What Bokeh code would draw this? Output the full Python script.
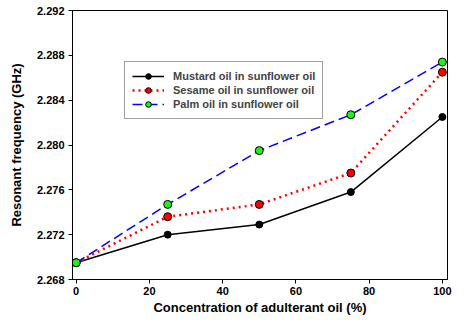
from bokeh.plotting import figure
from bokeh.models import Range1d, FixedTicker, Legend, LegendItem, NumeralTickFormatter
from bokeh.embed import file_html
from bokeh.resources import INLINE

conc = [0, 25, 50, 75, 100]
mustard = [2.2695, 2.2720, 2.2729, 2.2758, 2.2825]
sesame = [2.2695, 2.2736, 2.2747, 2.2775, 2.2865]
palm = [2.2695, 2.2747, 2.2795, 2.2827, 2.2874]
x_ticks = [0, 20, 40, 60, 80, 100]
y_ticks = [2.268, 2.272, 2.276, 2.280, 2.284, 2.288, 2.292]

FONT = "Liberation Sans"

p = figure(width=457, height=317, output_backend="svg", toolbar_location=None,
           x_range=Range1d(-1.0, 101.4), y_range=Range1d(2.268, 2.292),
           min_border_left=72, min_border_right=10, min_border_top=10, min_border_bottom=30)
p.grid.visible = False
p.outline_line_color = "black"
p.outline_line_width = 1

for ax in (p.xaxis[0], p.yaxis[0]):
    ax.axis_line_color = "black"
    ax.major_tick_line_color = "black"
    ax.major_tick_out = 4
    ax.major_tick_in = 0
    ax.minor_tick_line_color = None
    ax.major_label_text_font = FONT
    ax.major_label_text_font_style = "bold"
    ax.major_label_text_font_size = "11px"
    ax.major_label_text_color = "black"
    ax.axis_label_text_font = FONT
    ax.axis_label_text_font_style = "bold"
    ax.axis_label_text_font_size = "13px"
    ax.axis_label_text_color = "black"

p.xaxis.ticker = FixedTicker(ticks=x_ticks)
p.yaxis.ticker = FixedTicker(ticks=y_ticks)
p.yaxis.formatter = NumeralTickFormatter(format="0.000")
p.xaxis.axis_label = "Concentration of adulterant oil (%)"
p.yaxis.axis_label = "Resonant frequency (GHz)"
p.xaxis.major_label_standoff = 3
p.yaxis.major_label_standoff = 4
p.xaxis.axis_label_standoff = 2
p.yaxis.axis_label_standoff = 10

l1 = p.line(conc, mustard, line_color="black", line_width=1.5)
s1 = p.scatter(conc, mustard, size=7, fill_color="black", line_color="black")
l2 = p.line(conc, sesame, line_color="red", line_width=2.5, line_dash="2 4")
s2 = p.scatter(conc, sesame, size=8, fill_color="red", line_color="black")
l3 = p.line(conc, palm, line_color="blue", line_width=1.5, line_dash="10 5")
s3 = p.scatter(conc, palm, size=8, fill_color="#22ee22", line_color="black")

legend = Legend(items=[
    LegendItem(label="Mustard oil in sunflower oil", renderers=[l1, s1]),
    LegendItem(label="Sesame oil in sunflower oil", renderers=[l2, s2]),
    LegendItem(label="Palm oil in sunflower oil", renderers=[l3, s3]),
], location=(52, 160))
legend.label_text_font = FONT
legend.label_text_font_style = "bold"
legend.label_text_font_size = "11px"
legend.label_height = 14
legend.glyph_height = 14
legend.glyph_width = 32
legend.spacing = 0
legend.padding = 7
legend.margin = 0
legend.border_line_color = "#444444"
legend.border_line_width = 1
legend.background_fill_color = "white"
legend.background_fill_alpha = 1.0
legend.label_standoff = 9
p.add_layout(legend, "center")

open("out.html", "w").write(file_html(p, INLINE))
